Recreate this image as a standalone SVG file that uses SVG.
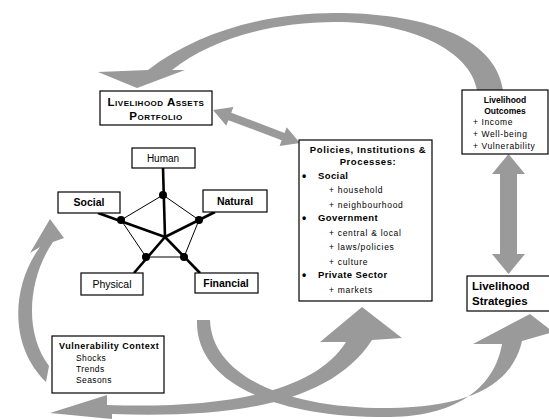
<svg xmlns="http://www.w3.org/2000/svg" width="549" height="419" viewBox="0 0 549 419">
<style>
.box{fill:#fff;stroke:#000;stroke-width:1.2}
.arr{fill:#9a9a9a;stroke:none}
.t{font-family:"Liberation Sans",Arial,sans-serif;fill:#000}
.b{font-weight:bold}
.s{font-size:8.5px;letter-spacing:0.7px}
.spoke{stroke:#000;stroke-width:2.6;fill:none}
.edge{stroke:#000;stroke-width:1;fill:none}
.dot{fill:#000}
</style>
<rect width="549" height="419" fill="#fff"/>
<g id="connectors">
<path class="arr" d="M98,72 L148,70 C200,30 270,13 335,13 C420,13 495,35 503,90 L477,90 C470,50 410,22 335,22 C270,22 210,40 172,70 L185,70 L137,88 Z"/>
<path class="arr" transform="translate(213,110) rotate(20.8)" d="M0,0 L18,-10 L18,-4 L75,-4 L75,-10 L93,0 L75,10 L75,4 L18,4 L18,10 Z"/>
<path class="arr" d="M508.5,154 L525,174 L517,174 L517,254 L525,254 L508.5,274 L492,254 L500,254 L500,174 L492,174 Z"/>
<path class="arr" d="M50,219 L64,238 L53,242 C30,275 22,330 49,366 L46,382 C8,345 12,285 40,247 L30,253 Z"/>
<path class="arr" d="M197,320 C195,385 280,418 390,417 C460,416 495,385 502,344 L473,344 L530,314 L553,332 L522,341 C512,385 470,407 390,408 C290,409 212,378 210,320 Z"/>
<path class="arr" d="M50,413 L107,395 L107,405 C225,409 315,392 346,342 L320,342 L362,307 L402,338 L372,340 C330,405 230,418 112,414 L112,419 Z"/>
</g>
<g id="assets">
<rect class="box" x="100" y="91" width="112" height="34"/>
<text class="t b" x="156" y="106" font-size="11.5" letter-spacing="0.5" text-anchor="middle" font-variant="small-caps">Livelihood Assets</text>
<text class="t b" x="156" y="120" font-size="11.5" letter-spacing="0.5" text-anchor="middle" font-variant="small-caps">Portfolio</text>
</g>
<g id="outcomes">
<rect class="box" x="462" y="90" width="86" height="64"/>
<text class="t" x="505" y="103" font-size="8.5" text-anchor="middle" font-weight="bold">Livelihood</text>
<text class="t" x="505" y="114" font-size="8.5" text-anchor="middle" font-weight="bold">Outcomes</text>
<text class="t" x="473" y="125" font-size="8.5" letter-spacing="0.6">+ Income</text>
<text class="t" x="473" y="137" font-size="8.5" letter-spacing="0.6">+ Well-being</text>
<text class="t" x="473" y="149" font-size="8.5" letter-spacing="0.6">+ Vulnerability</text>
</g>
<g id="strategies">
<rect class="box" x="467" y="276" width="84" height="35"/>
<text class="t b" x="472" y="290" font-size="11.5">Livelihood</text>
<text class="t b" x="472" y="305" font-size="11.5">Strategies</text>
</g>
<g id="policies">
<rect class="box" x="299" y="140" width="133" height="161"/>
<text class="t b" x="368" y="153" font-size="9.5" letter-spacing="0.6" text-anchor="middle">Policies, Institutions &amp;</text>
<text class="t b" x="368" y="165" font-size="9.5" letter-spacing="0.6" text-anchor="middle">Processes:</text>
<text class="t b" x="302" y="180" font-size="12">•</text>
<text class="t b" x="318" y="179" font-size="9.5" letter-spacing="0.4">Social</text>
<text class="t s" x="329" y="193">+ household</text>
<text class="t s" x="329" y="208">+ neighbourhood</text>
<text class="t b" x="302" y="222" font-size="12">•</text>
<text class="t b" x="318" y="221" font-size="9.5" letter-spacing="0.4">Government</text>
<text class="t s" x="329" y="236">+ central &amp; local</text>
<text class="t s" x="329" y="250">+ laws/policies</text>
<text class="t s" x="329" y="265">+ culture</text>
<text class="t b" x="302" y="279" font-size="12">•</text>
<text class="t b" x="318" y="278" font-size="9.5" letter-spacing="0.4">Private Sector</text>
<text class="t s" x="329" y="293">+ markets</text>
</g>
<g id="pentagon">
<line class="edge" x1="163" y1="195" x2="121" y2="220"/>
<line class="edge" x1="163" y1="195" x2="199" y2="220"/>
<line class="edge" x1="121" y1="220" x2="146" y2="257"/>
<line class="edge" x1="199" y1="220" x2="184" y2="257"/>
<line class="edge" x1="146" y1="257" x2="184" y2="257"/>
<line class="spoke" x1="163" y1="168" x2="165" y2="237"/>
<line class="spoke" x1="98" y1="213" x2="165" y2="237"/>
<line class="spoke" x1="215" y1="212" x2="165" y2="237"/>
<line class="spoke" x1="134" y1="273" x2="165" y2="237"/>
<line class="spoke" x1="200" y1="273" x2="165" y2="237"/>
<circle class="dot" cx="163" cy="195" r="4"/>
<circle class="dot" cx="121" cy="220" r="4"/>
<circle class="dot" cx="199" cy="220" r="4"/>
<circle class="dot" cx="146" cy="257" r="4"/>
<circle class="dot" cx="184" cy="257" r="4"/>
</g>
<g id="human">
<rect class="box" x="132" y="148" width="63" height="20"/>
<text class="t" x="163" y="162" font-size="10" text-anchor="middle">Human</text>
</g>
<g id="social">
<rect class="box" x="58" y="192" width="62" height="21"/>
<text class="t b" x="89" y="206" font-size="10.5" text-anchor="middle">Social</text>
</g>
<g id="natural">
<rect class="box" x="203" y="190" width="64" height="22"/>
<text class="t b" x="235" y="205" font-size="10.5" text-anchor="middle">Natural</text>
</g>
<g id="physical">
<rect class="box" x="81" y="273" width="62" height="22"/>
<text class="t" x="112" y="288" font-size="10.5" text-anchor="middle">Physical</text>
</g>
<g id="financial">
<rect class="box" x="195" y="273" width="63" height="20"/>
<text class="t b" x="226" y="287" font-size="10.5" text-anchor="middle">Financial</text>
</g>
<g id="vulnerability">
<rect class="box" x="52" y="336" width="112" height="57"/>
<text class="t b" x="59" y="349" font-size="9" letter-spacing="0.5">Vulnerability Context</text>
<text class="t" x="76" y="361" font-size="8.5" letter-spacing="0.4">Shocks</text>
<text class="t" x="76" y="372" font-size="8.5" letter-spacing="0.4">Trends</text>
<text class="t" x="76" y="383" font-size="8.5" letter-spacing="0.4">Seasons</text>
</g>
</svg>
